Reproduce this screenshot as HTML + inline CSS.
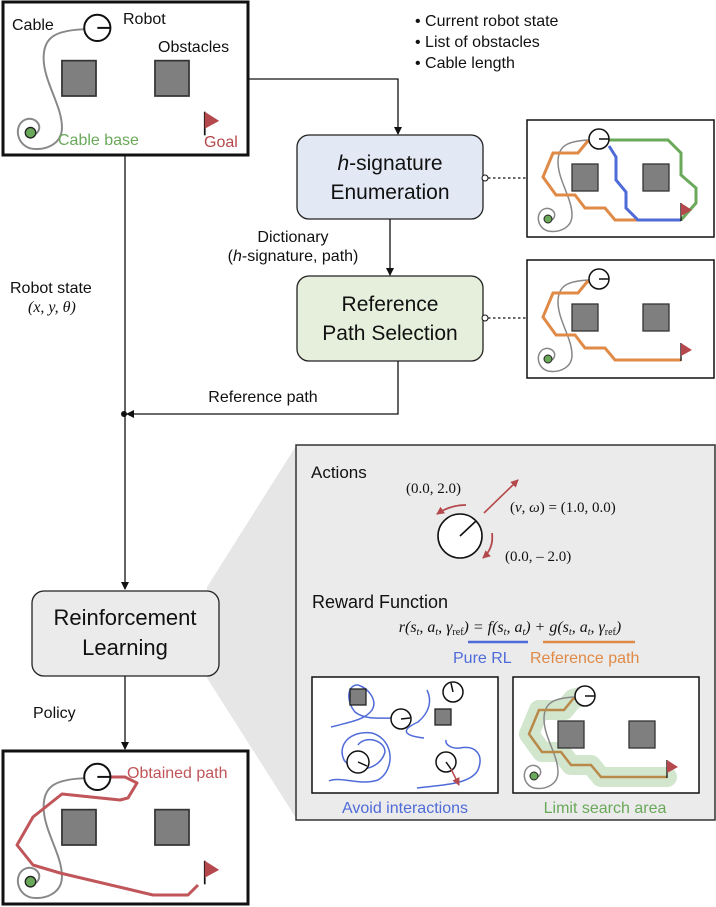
<!DOCTYPE html>
<html><head><meta charset="utf-8"><style>
html,body{margin:0;padding:0;background:#fff}
svg{display:block}
text{font-family:"Liberation Sans",sans-serif;fill:#111}
.s{font-family:"Liberation Serif",serif}
</style></head><body>
<svg width="716" height="907" viewBox="0 0 716 907" xmlns="http://www.w3.org/2000/svg">
<defs>
<marker id="ah" markerWidth="8" markerHeight="8" refX="7" refY="4" orient="auto" markerUnits="userSpaceOnUse"><path d="M0,0 L8,4 L0,8 z" fill="#111"/></marker>
<marker id="rh" markerWidth="8" markerHeight="8" refX="7" refY="4" orient="auto" markerUnits="userSpaceOnUse"><path d="M0,0 L8,4 L0,8 z" fill="#b5484c"/></marker>
<g id="cable"><path d="M62,20 C40,21 31,26 31,42 C31,60 45,78 45,95 C45,108 32,113 21,111 C10,108 8,93 17,89 C24,86 32,94 25,100" fill="none" stroke="#888" stroke-width="1.5"/></g>
<g id="obs"><rect x="45" y="44" width="26" height="27" fill="#7f7f7f" stroke="#333" stroke-width="1.3"/><rect x="116" y="44" width="26" height="27" fill="#7f7f7f" stroke="#333" stroke-width="1.3"/></g>
<g id="robot"><circle cx="72" cy="19" r="10" fill="#fff" stroke="#111" stroke-width="1.5"/><line x1="72" y1="19" x2="82" y2="19" stroke="#111" stroke-width="1.5"/></g>
<g id="base"><circle cx="21" cy="99" r="4" fill="#6aa85a" stroke="#222" stroke-width="1"/></g>
<g id="flag"><line x1="154" y1="83" x2="154" y2="101" stroke="#111" stroke-width="1.3"/><path d="M154,83 L165,90 L154,96 z" fill="#b5484c"/></g>
</defs>

<rect x="3" y="2" width="245" height="153" fill="#fff" stroke="#111" stroke-width="3"/>
<g transform="translate(3,3) scale(1.31)">
<use href="#cable"/><use href="#obs"/><use href="#robot"/><use href="#base"/><use href="#flag"/>
</g>
<text x="12" y="30" font-size="16">Cable</text>
<text x="123" y="24" font-size="16">Robot</text>
<text x="158" y="52" font-size="16">Obstacles</text>
<text x="58" y="145" font-size="16" style="fill:#6aa85a">Cable base</text>
<text x="204" y="147" font-size="16" style="fill:#b5484c">Goal</text>

<text x="415" y="26" font-size="16">• Current robot state</text>
<text x="415" y="47" font-size="16">• List of obstacles</text>
<text x="415" y="68" font-size="16">• Cable length</text>

<polyline points="248,79 398,79 398,134" fill="none" stroke="#111" stroke-width="1.3" marker-end="url(#ah)"/>
<line x1="125" y1="155" x2="125" y2="589" stroke="#111" stroke-width="1.3" marker-end="url(#ah)"/>
<line x1="390" y1="219" x2="390" y2="275" stroke="#111" stroke-width="1.3" marker-end="url(#ah)"/>
<polyline points="398,361 398,414 127,414" fill="none" stroke="#111" stroke-width="1.3" marker-end="url(#ah)"/>
<circle cx="124" cy="414" r="3" fill="#111"/>
<line x1="125" y1="676" x2="125" y2="749" stroke="#111" stroke-width="1.3" marker-end="url(#ah)"/>

<rect x="297" y="135" width="186" height="84" rx="12" fill="#e2e8f4" stroke="#222" stroke-width="1.3"/>
<text x="390" y="170" font-size="21" text-anchor="middle"><tspan font-style="italic">h</tspan>-signature</text>
<text x="390" y="199" font-size="21" text-anchor="middle">Enumeration</text>
<rect x="297" y="276" width="186" height="85" rx="12" fill="#e6efdc" stroke="#222" stroke-width="1.3"/>
<text x="390" y="311" font-size="21" text-anchor="middle">Reference</text>
<text x="390" y="340" font-size="21" text-anchor="middle">Path Selection</text>
<text x="293" y="242" font-size="16" text-anchor="middle">Dictionary</text>
<text x="293" y="261" font-size="16" text-anchor="middle">(<tspan font-style="italic">h</tspan>-signature, path)</text>
<text x="263" y="402" font-size="16" text-anchor="middle">Reference path</text>
<text x="10" y="293" font-size="16">Robot state</text>
<text x="28" y="312" font-size="16" class="s" font-style="italic">(x, y, θ)</text>
<text x="33" y="718" font-size="16">Policy</text>

<line x1="488" y1="178" x2="526" y2="178" stroke="#111" stroke-width="1.3" stroke-dasharray="2.5,2.5"/>
<circle cx="485" cy="178" r="3" fill="#fff" stroke="#111"/>
<line x1="488" y1="318" x2="526" y2="318" stroke="#111" stroke-width="1.3" stroke-dasharray="2.5,2.5"/>
<circle cx="485" cy="318" r="3" fill="#fff" stroke="#111"/>

<rect x="527" y="120" width="187" height="117" fill="#fff" stroke="#111" stroke-width="1.5"/>
<g transform="translate(527,120)">
<use href="#cable"/><use href="#obs"/>
<polyline points="67,20 60,22 51,33 26,33 16,57 29,75 48,75 58,88 78,88 88,100 111,100" fill="none" stroke="#e08a47" stroke-width="3"/>
<polyline points="82,26 89,37 89,60 99,72 99,88 111,100 154,100" fill="none" stroke="#4f6bd8" stroke-width="3"/>
<polyline points="82,20 141,20 154,33 154,55 169,68 169,83 154,100" fill="none" stroke="#6aa85a" stroke-width="3"/>
<use href="#robot"/><use href="#base"/><use href="#flag"/>
</g>
<rect x="527" y="260" width="187" height="118" fill="#fff" stroke="#111" stroke-width="1.5"/>
<g transform="translate(527,260)">
<use href="#cable"/><use href="#obs"/>
<polyline points="67,20 60,22 51,33 26,33 16,57 29,75 48,75 58,88 78,88 88,100 154,100" fill="none" stroke="#e08a47" stroke-width="3"/>
<use href="#robot"/><use href="#base"/><use href="#flag"/>
</g>

<polygon points="207,587 296,446 296,818 207,678" fill="#e6e6e6"/>
<rect x="32" y="591" width="187" height="85" rx="12" fill="#ebebeb" stroke="#222" stroke-width="1.3"/>
<text x="125" y="625" font-size="22" text-anchor="middle">Reinforcement</text>
<text x="125" y="655" font-size="22" text-anchor="middle">Learning</text>

<rect x="296" y="445" width="419" height="375" fill="#ebebeb" stroke="#333" stroke-width="1.5"/>
<text x="311" y="478" font-size="17">Actions</text>
<text x="406" y="493" font-size="15" class="s">(0.0, 2.0)</text>
<text x="510" y="512" font-size="15" class="s">(<tspan font-style="italic">v</tspan>, <tspan font-style="italic">ω</tspan>) = (1.0, 0.0)</text>
<text x="505" y="561" font-size="15" class="s">(0.0, – 2.0)</text>
<circle cx="460" cy="536" r="22" fill="#fff" stroke="#111" stroke-width="1.6"/>
<line x1="460" y1="536" x2="476" y2="521" stroke="#111" stroke-width="1.6"/>
<line x1="484" y1="513" x2="518" y2="480" stroke="#b5484c" stroke-width="1.6" marker-end="url(#rh)"/>
<path d="M466,505 Q450,505 437,514" fill="none" stroke="#b5484c" stroke-width="1.8" marker-end="url(#rh)"/>
<path d="M492,533 Q494,548 483,558" fill="none" stroke="#b5484c" stroke-width="1.8" marker-end="url(#rh)"/>

<text x="312" y="608" font-size="18">Reward Function</text>
<text x="510" y="632" font-size="16" class="s" font-style="italic" text-anchor="middle">r(s<tspan font-size="10" dy="3">t</tspan><tspan dy="-3">, a</tspan><tspan font-size="10" dy="3">t</tspan><tspan dy="-3">, γ</tspan><tspan font-size="10" dy="3" font-style="normal">ref</tspan><tspan dy="-3">) = f(s</tspan><tspan font-size="10" dy="3">t</tspan><tspan dy="-3">, a</tspan><tspan font-size="10" dy="3">t</tspan><tspan dy="-3">) + g(s</tspan><tspan font-size="10" dy="3">t</tspan><tspan dy="-3">, a</tspan><tspan font-size="10" dy="3">t</tspan><tspan dy="-3">, γ</tspan><tspan font-size="10" dy="3" font-style="normal">ref</tspan><tspan dy="-3">)</tspan></text>
<line x1="468" y1="642" x2="528" y2="642" stroke="#4f6bd8" stroke-width="2.5"/>
<line x1="543" y1="642" x2="635" y2="642" stroke="#e08a47" stroke-width="2.5"/>
<text x="453" y="663" font-size="16" style="fill:#4f6bd8">Pure RL</text>
<text x="530" y="663" font-size="16" style="fill:#e08a47">Reference path</text>

<rect x="312" y="677" width="186" height="116" fill="#fff" stroke="#111" stroke-width="1.5"/>
<g fill="none" stroke="#4f6bd8" stroke-width="1.5">
<path d="M331,727 C350,722 365,720 372,710 C378,700 368,688 358,685 C348,684 345,700 355,712 C365,720 380,718 395,718"/>
<path d="M427,690 C432,700 430,712 418,722 C405,728 398,735 424,738"/>
<path d="M329,781 C340,776 360,786 378,780 C395,770 395,740 372,733 C350,730 337,745 344,760 C355,775 380,770 385,752 C385,740 365,735 358,745"/>
<path d="M417,788 C440,785 470,785 478,770 C484,755 476,745 460,748 C452,749 445,745 446,740"/>
</g>
<rect x="350" y="689" width="16" height="16" fill="#7f7f7f" stroke="#222" stroke-width="1.3"/>
<rect x="435" y="709" width="16" height="16" fill="#7f7f7f" stroke="#222" stroke-width="1.3"/>
<g fill="#fff" stroke="#111" stroke-width="1.5">
<circle cx="401" cy="719" r="10"/><circle cx="453" cy="692" r="10"/><circle cx="358" cy="762" r="11"/><circle cx="446" cy="762" r="10"/>
</g>
<g stroke="#111" stroke-width="1.5">
<line x1="401" y1="719" x2="410" y2="718"/><line x1="453" y1="692" x2="451" y2="683"/><line x1="358" y1="762" x2="367" y2="766"/><line x1="446" y1="762" x2="451" y2="769"/>
</g>
<line x1="451" y1="769" x2="459" y2="785" stroke="#b5484c" stroke-width="1.5" marker-end="url(#rh)"/>
<text x="405" y="813" font-size="16" text-anchor="middle" style="fill:#4f6bd8">Avoid interactions</text>

<rect x="513" y="677" width="186" height="116" fill="#fff" stroke="#111" stroke-width="1.5"/>
<g transform="translate(513,677)">
<polyline points="67,20 60,22 51,33 26,33 16,57 29,75 48,75 58,88 78,88 88,100 154,100" fill="none" stroke="#6aa85a" stroke-opacity="0.3" stroke-width="20" stroke-linejoin="round" stroke-linecap="round"/>
<use href="#cable"/><use href="#obs"/>
<polyline points="67,20 60,22 51,33 26,33 16,57 29,75 48,75 58,88 78,88 88,100 154,100" fill="none" stroke="#b88a4a" stroke-width="2.5"/>
<use href="#robot"/><use href="#base"/><use href="#flag"/>
</g>
<text x="605" y="813" font-size="16" text-anchor="middle" style="fill:#6aa85a">Limit search area</text>

<rect x="3" y="751" width="245" height="153" fill="#fff" stroke="#111" stroke-width="3"/>
<g transform="translate(3,752) scale(1.31)">
<use href="#cable"/><use href="#obs"/>
</g>
<polyline points="97,777 125,777 137,783 128,798 120,800 62,794 33,817 17,845 33,865 60,873 153,895 188,895 198,885" fill="none" stroke="#c0555a" stroke-width="3" stroke-linejoin="round"/>
<g transform="translate(3,752) scale(1.31)">
<use href="#robot"/><use href="#base"/><use href="#flag"/>
</g>
<text x="127" y="778" font-size="16" style="fill:#c0555a">Obtained path</text>
</svg>
</body></html>
